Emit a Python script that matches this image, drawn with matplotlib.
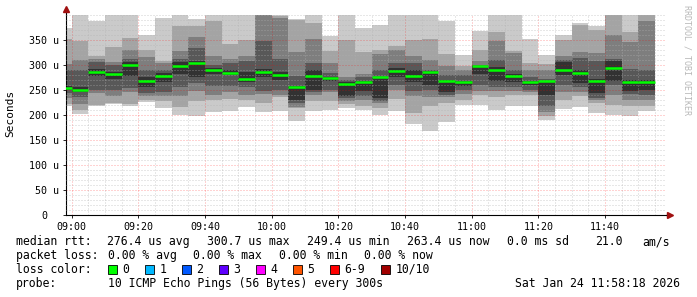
import matplotlib
matplotlib.use("Agg")
import matplotlib.pyplot as plt
import matplotlib.dates as mdates
from matplotlib.patches import Rectangle
from matplotlib.transforms import ScaledTranslation
import numpy as np
import pandas as pd

# 5-minute slots, 10 pings each (sorted, microseconds); values > 400 are clipped by the axis
SLOT_START = pd.date_range("2026-01-24 08:55", periods=36, freq="5min")
P01 = [217, 202, 217, 221, 218, 226, 214, 199, 198, 205, 208, 215, 205, 207, 189, 207, 210, 213,
       210, 200, 207, 183, 169, 187, 220, 220, 210, 218, 218, 190, 211, 215, 203, 200, 197, 207]
P02 = [222, 210, 220, 224, 222, 229, 228, 215, 227, 230, 232, 230, 223, 235, 214, 228, 227, 222,
       217, 213, 232, 203, 217, 223, 230, 240, 235, 240, 240, 197, 230, 237, 223, 220, 217, 217]
P03 = [233, 222, 243, 238, 245, 237, 238, 237, 247, 240, 245, 240, 242, 240, 216, 240, 245, 228,
       230, 223, 250, 237, 235, 235, 242, 247, 247, 247, 245, 205, 245, 245, 230, 240, 230, 230]
P04 = [243, 236, 250, 249, 254, 244, 246, 256, 263, 257, 258, 256, 247, 250, 223, 245, 250, 233,
       238, 228, 260, 247, 250, 240, 250, 260, 255, 255, 250, 217, 260, 255, 233, 260, 242, 240]
P05 = [250, 245, 278, 272, 278, 255, 265, 282, 275, 282, 280, 265, 276, 270, 230, 250, 268, 237,
       247, 233, 275, 265, 260, 245, 258, 282, 267, 265, 260, 240, 280, 263, 243, 268, 247, 250]
P06 = [258, 255, 292, 286, 305, 275, 283, 305, 307, 293, 290, 285, 292, 285, 258, 290, 276, 265,
       268, 275, 293, 290, 288, 270, 268, 297, 295, 282, 268, 268, 305, 290, 272, 308, 270, 270]
P07 = [290, 290, 305, 300, 312, 290, 290, 312, 334, 300, 303, 307, 348, 311, 277, 303, 283, 270,
       275, 290, 303, 303, 290, 280, 280, 300, 310, 290, 275, 272, 310, 313, 307, 311, 291, 290]
P08 = [302, 309, 311, 306, 330, 315, 303, 327, 355, 318, 311, 317, 405, 393, 325, 351, 303, 275,
       282, 321, 330, 317, 310, 297, 289, 307, 347, 323, 290, 290, 318, 325, 323, 360, 345, 387]
P09 = [351, 347, 318, 335, 354, 330, 308, 378, 377, 387, 341, 350, 420, 397, 390, 383, 327, 349,
       325, 330, 337, 349, 351, 321, 297, 330, 365, 328, 304, 301, 350, 380, 370, 405, 365, 405]
P10 = [373, 410, 388, 402, 405, 360, 393, 410, 392, 405, 405, 405, 430, 402, 392, 405, 357, 405,
       373, 380, 405, 405, 405, 387, 320, 368, 405, 405, 351, 320, 359, 383, 377, 410, 405, 410]
MEDIAN = [254, 249, 285, 281, 300, 267, 278, 297, 303, 290, 284, 272, 285, 279, 255, 277, 274, 262,
          266, 275, 287, 277, 285, 268, 265, 297, 289, 277, 265, 268, 290, 283, 268, 293, 265, 265]

Y_TICKS = [0, 50, 100, 150, 200, 250, 300, 350]
Y_LABELS = ["0", "50 u", "100 u", "150 u", "200 u", "250 u", "300 u", "350 u"]

LOSS_COLORS = ["#00ff00", "#00b8ff", "#0059ff", "#5e00ff", "#ff00ff", "#ff5500", "#ff0000", "#a10000"]
LOSS_LABELS = ["0", "1", "2", "3", "4", "5", "6-9", "10/10"]

SMOKE = ["#cacaca", "#a4a4a4", "#7e7e7e", "#585858", "#323232"]
MONO = "DejaVu Sans Mono"
W, H = 697, 297


def fig_text(fig, x, y, s, **kw):
    fig.text(x / W, 1 - y / H, s, family=MONO, va="center", **kw)


def main() -> None:
    fig = plt.figure(figsize=(W / 100, H / 100), dpi=100)
    fig.patch.set_facecolor("white")
    ax = fig.add_axes([66 / W, 82 / H, 600 / W, 200 / H])

    x = mdates.date2num(SLOT_START.to_pydatetime())
    width = 5 / 1440
    lows = [P01, P02, P03, P04, P05]
    highs = [P10, P09, P08, P07, P06]
    for lo, hi, col in zip(lows, highs, SMOKE):
        lo = np.asarray(lo, dtype=float)
        hi = np.asarray(hi, dtype=float)
        ax.bar(x, hi - lo, bottom=lo, width=width, align="edge", color=col, linewidth=0, zorder=1)

    ax.hlines(MEDIAN, x, x + width, color="#00ff00", linewidth=1.8, zorder=3)

    start = pd.Timestamp("2026-01-24 08:58:18")
    end = pd.Timestamp("2026-01-24 11:58:18")
    ax.set_xlim(mdates.date2num(start), mdates.date2num(end))
    ax.set_ylim(0, 400)

    ax.xaxis.set_major_locator(mdates.MinuteLocator(byminute=[0, 20, 40]))
    ax.xaxis.set_minor_locator(mdates.MinuteLocator(byminute=range(0, 60, 5)))
    ax.xaxis.set_major_formatter(mdates.DateFormatter("%H:%M"))
    ax.set_yticks(Y_TICKS)
    ax.set_yticklabels(Y_LABELS)
    ax.set_yticks(np.arange(0, 401, 10), minor=True)

    ax.grid(which="minor", color="#b0b0b0", alpha=0.6, linestyle=(0, (1, 2)), linewidth=0.72)
    ax.grid(which="major", color="#ff0000", alpha=0.35, linestyle=(0, (1, 2)), linewidth=0.72)
    ax.set_axisbelow(False)

    ax.tick_params(which="major", length=2, width=0.6, pad=3, labelsize=7.2, colors="black")
    ax.tick_params(which="minor", length=0)
    for lab in ax.get_xticklabels() + ax.get_yticklabels():
        lab.set_family(MONO)
    zero = ax.get_yticklabels()[0]
    zero.set_transform(zero.get_transform() + ScaledTranslation(-0.12, 0, fig.dpi_scale_trans))

    for side in ("top", "right"):
        ax.spines[side].set_visible(False)
    for side in ("left", "bottom"):
        ax.spines[side].set_color("black")
        ax.spines[side].set_linewidth(0.8)

    # axis arrows
    ax.plot([0, 0], [1, 1.03], transform=ax.transAxes, color="black", lw=0.8, clip_on=False)
    ax.plot(0, 1.03, marker="^", ms=4, color="#a01010", transform=ax.transAxes, clip_on=False)
    ax.plot([1, 1.006], [0, 0], transform=ax.transAxes, color="black", lw=0.8, clip_on=False)
    ax.plot(1.006, 0, marker=">", ms=4, color="#a01010", transform=ax.transAxes, clip_on=False)

    fig.text(10.7 / W, 1 - 113 / H, "Seconds", family=MONO, fontsize=8,
             rotation=90, ha="center", va="center")
    fig.text(686.5 / W, 1 - 5 / H, "RRDTOOL / TOBI OETIKER", family=MONO, fontsize=6,
             rotation=-90, ha="center", va="top", color="#b8b8b8")

    fs = 8.3
    y1, y2, y3, y4 = 241.7, 255.3, 269.3, 283.3
    fig_text(fig, 15.6, y1, "median rtt:", fontsize=fs)
    for xp, s in [(106.7, "276.4 us avg"), (206.7, "300.7 us max"), (306.7, "249.4 us min"),
                  (406.7, "263.4 us now"), (506.7, "0.0 ms sd"), (595.6, "21.0"), (642, "am/s")]:
        fig_text(fig, xp, y1, s, fontsize=fs)

    fig_text(fig, 15.6, y2, "packet loss:", fontsize=fs)
    for xp, s in [(107.5, "0.00 % avg"), (193.3, "0.00 % max"), (279, "0.00 % min"), (364.4, "0.00 % now")]:
        fig_text(fig, xp, y2, s, fontsize=fs)

    fig_text(fig, 15.6, y3, "loss color:", fontsize=fs)
    box_x = [108, 145, 182, 219, 256.4, 293, 330, 381]
    for bx, col, lab in zip(box_x, LOSS_COLORS, LOSS_LABELS):
        fig.add_artist(Rectangle((bx / W, 1 - (y3 + 4.5) / H), 8.5 / W, 9 / H,
                                 transform=fig.transFigure, facecolor=col,
                                 edgecolor="black", linewidth=0.6))
        fig_text(fig, bx + 14.5, y3, lab, fontsize=fs)

    fig_text(fig, 15.6, y4, "probe:", fontsize=fs)
    fig_text(fig, 107.5, y4, "10 ICMP Echo Pings (56 Bytes) every 300s", fontsize=fs)
    fig_text(fig, 680, y4, "Sat Jan 24 11:58:18 2026", fontsize=fs, ha="right")

    fig.savefig("out.png", dpi=100)
    plt.close(fig)


if __name__ == "__main__":
    main()
